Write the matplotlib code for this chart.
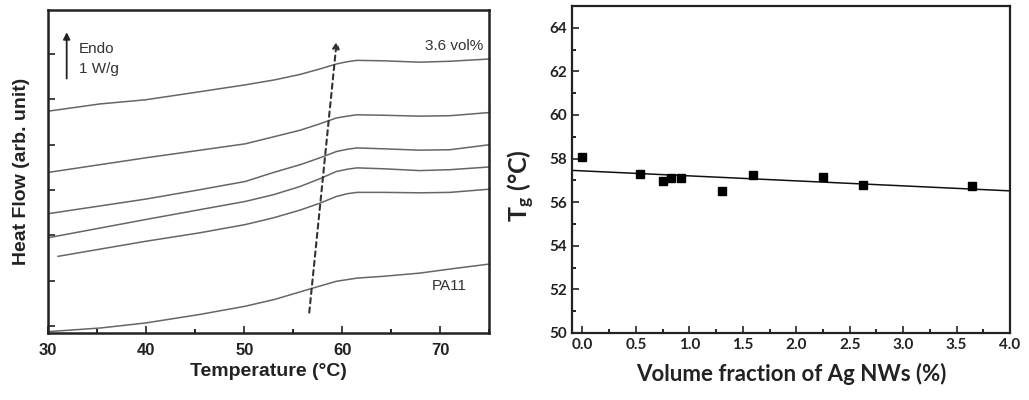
import matplotlib as mpl
import matplotlib.pyplot as plt
from matplotlib.ticker import MultipleLocator

mpl.rcParams['mathtext.default'] = 'regular'

# DSC curves (left panel), bottom to top
T_pa11 = [30, 35.3, 39.9, 45.5, 50.1, 53.1, 57.0, 59.4, 61.5, 64.2, 67.9, 71.0, 75]
hf_pa11 = [-0.12, -0.04, 0.07, 0.26, 0.44, 0.59, 0.84, 0.99, 1.06, 1.10, 1.17, 1.26, 1.37]
T_c5 = [31.0, 39.9, 45.5, 50.1, 53.0, 55.7, 57.7, 59.4, 60.5, 61.5, 64.2, 67.9, 71.0, 75]
hf_c5 = [1.54, 1.87, 2.06, 2.24, 2.39, 2.56, 2.71, 2.86, 2.92, 2.95, 2.95, 2.94, 2.95, 3.02]
T_c4 = [30, 39.9, 45.5, 50.1, 53.0, 55.7, 57.7, 59.4, 60.5, 61.5, 64.2, 67.9, 71.0, 75]
hf_c4 = [1.95, 2.35, 2.57, 2.75, 2.90, 3.08, 3.25, 3.41, 3.46, 3.49, 3.47, 3.43, 3.45, 3.51]
T_c3 = [30, 39.9, 45.5, 50.1, 53.0, 55.7, 57.7, 59.4, 60.5, 61.5, 64.2, 67.9, 71.0, 75]
hf_c3 = [2.48, 2.80, 3.01, 3.19, 3.39, 3.56, 3.71, 3.85, 3.90, 3.93, 3.91, 3.88, 3.89, 4.00]
T_c2 = [30, 39.9, 45.5, 50.1, 53.1, 55.7, 57.7, 59.4, 60.5, 61.5, 64.2, 67.9, 71.0, 75]
hf_c2 = [3.39, 3.71, 3.88, 4.02, 4.18, 4.32, 4.46, 4.59, 4.63, 4.66, 4.65, 4.63, 4.64, 4.71]
T_c1 = [30, 35.3, 39.9, 45.5, 50.1, 53.1, 55.7, 57.7, 59.4, 60.5, 61.5, 64.2, 67.9, 71.0, 75]
hf_c1 = [4.74, 4.90, 4.99, 5.17, 5.32, 5.43, 5.55, 5.67, 5.78, 5.83, 5.86, 5.85, 5.82, 5.84, 5.89]

# Tg shift arrow (start, end)
tg_arrow_T = [56.63, 59.43]
tg_arrow_hf = [0.30, 6.28]

# Tg vs Ag NW content (right panel)
vol_frac = [0.0, 0.54, 0.754, 0.83, 0.925, 1.31, 1.60, 2.25, 2.62, 3.64]
tg = [58.07, 57.31, 56.95, 57.13, 57.13, 56.52, 57.25, 57.16, 56.81, 56.76]
fit_x = [-0.1, 4.0]
fit_y = [57.46, 56.52]

fig = plt.figure(figsize=(10.29, 4.0), dpi=100)

# ---- left panel ----
ax1 = fig.add_axes([0.0469, 0.1675, 0.4286, 0.8075])
curve_col = '#666666'
for T, hf in [(T_pa11, hf_pa11), (T_c5, hf_c5), (T_c4, hf_c4),
              (T_c3, hf_c3), (T_c2, hf_c2), (T_c1, hf_c1)]:
    ax1.plot(T, hf, color=curve_col, lw=1.1, solid_joinstyle='round')

ax1.annotate('', xy=(tg_arrow_T[1], tg_arrow_hf[1]), xytext=(tg_arrow_T[0], tg_arrow_hf[0]),
             arrowprops=dict(arrowstyle='-|>', color='#333333', lw=1.5, ls=(0, (2.5, 2)),
                             mutation_scale=10, shrinkA=0, shrinkB=0))
ax1.annotate('', xy=(31.88, 6.48), xytext=(31.88, 5.46),
             arrowprops=dict(arrowstyle='-|>', color='#222222', lw=1.3,
                             mutation_scale=10, shrinkA=0, shrinkB=0))
txt = dict(family='Liberation Sans', fontsize=11, color='#333333')
ax1.text(33.16, 6.10, 'Endo', ha='left', va='center', **txt)
ax1.text(33.16, 5.66, '1 W/g', ha='left', va='center', **txt)
ax1.text(74.39, 6.17, '3.6 vol%', ha='right', va='center', **txt)
ax1.text(69.12, 0.89, 'PA11', ha='left', va='center', **txt)

ax1.set_xlim(30, 75)
ax1.set_ylim(-0.15, 6.97)
ax1.set_xticks([30, 40, 50, 60, 70])
ax1.xaxis.set_minor_locator(MultipleLocator(5))
ax1.set_yticks(range(7))
ax1.set_yticklabels([])
ax1.tick_params(direction='in', length=5, width=1.2, colors='#222222')
ax1.tick_params(which='minor', direction='in', length=3, width=1.2)
for lab in ax1.get_xticklabels():
    lab.set_family('Liberation Sans')
    lab.set_fontweight('bold')
    lab.set_fontsize(12)
ax1.tick_params(axis='x', pad=7)
for s in ax1.spines.values():
    s.set_linewidth(1.8)
    s.set_color('#222222')
ax1.set_xlabel('Temperature (°C)', family='Liberation Sans', fontweight='bold',
               fontsize=14, color='#222222', labelpad=4)
ax1.set_ylabel('Heat Flow (arb. unit)', family='Liberation Sans', fontweight='bold',
               fontsize=14, color='#222222', labelpad=10)

# ---- right panel ----
ax2 = fig.add_axes([0.5556, 0.1675, 0.4260, 0.8175])
ax2.plot(fit_x, fit_y, color='#111111', lw=1.1)
ax2.plot(vol_frac, tg, 's', color='black', ms=5.5)
ax2.set_xlim(-0.1, 4.0)
ax2.set_ylim(50, 65)
ax2.xaxis.set_major_locator(MultipleLocator(0.5))
ax2.xaxis.set_minor_locator(MultipleLocator(0.25))
ax2.yaxis.set_major_locator(MultipleLocator(2))
ax2.yaxis.set_minor_locator(MultipleLocator(1))
ax2.xaxis.set_major_formatter(mpl.ticker.FormatStrFormatter('%.1f'))
ax2.tick_params(direction='in', length=5, width=1.2, colors='#222222', labelsize=11)
ax2.tick_params(which='minor', direction='in', length=3, width=1.2)
for lab in ax2.get_xticklabels() + ax2.get_yticklabels():
    lab.set_family('Lato')
    lab.set_fontweight('bold')
for s in ax2.spines.values():
    s.set_linewidth(1.6)
    s.set_color('#222222')
ax2.set_xlabel('Volume fraction of Ag NWs (%)', family='Lato', fontweight='bold',
               fontsize=16, color='#222222', labelpad=8)
ax2.set_ylabel('T$_g$ (°C)', family='Lato', fontweight='bold',
               fontsize=18, color='#222222')
ax2.yaxis.set_label_coords(-0.08, 0.45)

fig.savefig('out.png', dpi=100)
